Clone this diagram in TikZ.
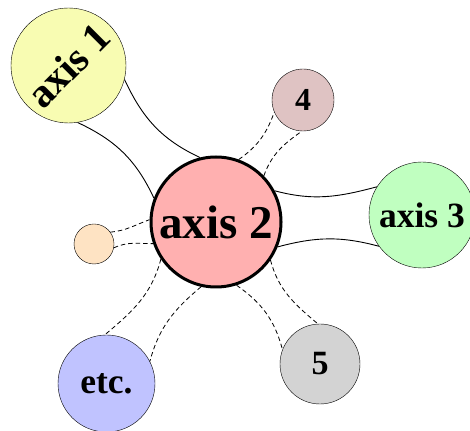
\documentclass[tikz,border=0pt]{standalone}
\usepackage{fontspec}
\setmainfont{Liberation Serif}
\definecolor{axisyellow}{RGB}{248, 252, 178}
\definecolor{axisred}{RGB}{255, 176, 176}
\definecolor{axisgreen}{RGB}{192, 255, 192}
\definecolor{rosebrown}{RGB}{223, 195, 195}
\definecolor{peach}{RGB}{254, 227, 195}
\definecolor{lightgray}{RGB}{211, 211, 211}
\definecolor{lightblue}{RGB}{192, 195, 255}

\begin{document}
\begin{tikzpicture}[x=1pt, y=1pt,
  bubble/.style={draw, circle, inner sep=0pt, font=\bfseries},
  link/.style={line width=0.9pt},
  weak/.style={line width=0.8pt, dash pattern=on 4.5pt off 3pt}
]
  \useasboundingbox (0, 0) rectangle (470, 430);

  % the concepts
  \node[bubble, fill=axisred, line width=3pt, minimum size=130pt,
        font=\bfseries\fontsize{47}{47}\selectfont] (A2) at (216, 208) {axis 2};
  \node[bubble, fill=axisyellow, minimum size=115pt, rotate=45,
        font=\bfseries\fontsize{41}{41}\selectfont] (A1) at (68.5, 364.5) {axis 1};
  \node[bubble, fill=axisgreen, minimum size=106pt,
        font=\bfseries\fontsize{35.5}{35.5}\selectfont] (A3) at (422, 215) {axis 3};
  \node[bubble, fill=rosebrown, minimum size=62pt,
        font=\bfseries\fontsize{32}{32}\selectfont] (N4) at (303, 330) {4};
  \node[bubble, fill=peach, minimum size=40pt] (S) at (94, 186) {};
  \node[bubble, fill=lightgray, minimum size=80pt,
        font=\bfseries\fontsize{34}{34}\selectfont] (N5) at (320, 66) {5};
  \node[bubble, fill=lightblue, minimum size=97pt,
        font=\bfseries\fontsize{35.5}{35.5}\selectfont] (E) at (106.5, 46.5) {etc.};

  % strong links (A1 is turned by 45 degrees)
  \draw[link] (A1.-59) to[out=-65, in=155] (A2.104);
  \draw[link] (A1.-126) to[out=-25, in=115] (A2.159);
  \draw[link] (A2.28) to[out=-15, in=195] (A3.148);
  \draw[link] (A2.-22) to[out=15, in=165] (A3.-144);

  % weak links
  \draw[weak] (A2.70) to[out=35, in=-110] (N4.-157);
  \draw[weak] (A2.44) to[out=70, in=-145] (N4.-92);
  \draw[weak] (S.36) to[out=5, in=200] (A2.178);
  \draw[weak] (S.-11) to[out=25, in=180] (A2.-161);
  \draw[weak] (A2.-146) to[out=-105, in=40] (E.92);
  \draw[weak] (A2.-103) to[out=-140, in=75] (E.27);
  \draw[weak] (A2.-35) to[out=-75, in=140] (N5.93);
  \draw[weak] (A2.-72) to[out=-35, in=105] (N5.159);
\end{tikzpicture}
\end{document}
